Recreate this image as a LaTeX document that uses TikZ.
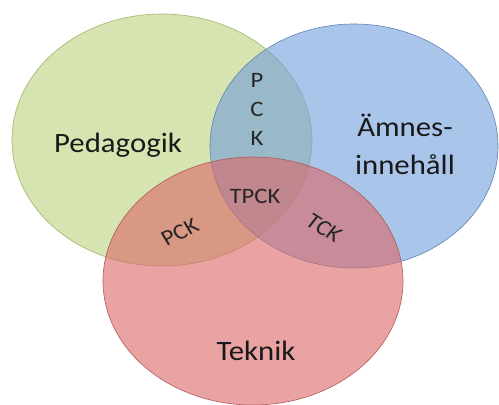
\documentclass[tikz,border=0pt]{standalone}
\usepackage{fontspec}
\setmainfont{Carlito}
\begin{document}
\begin{tikzpicture}[x=1pt,y=-1pt,
  circ/.style={fill opacity=0.6, line width=0.6pt},
  big/.style={font=\fontsize{28}{38}\selectfont, text=black!90, xscale=1.1},
  small/.style={font=\fontsize{22}{29}\selectfont, text=black!85, xscale=1.12, inner sep=0pt}]
\useasboundingbox (0,0) rectangle (499,405);
\definecolor{gfill}{RGB}{185,210,123}
\definecolor{gline}{RGB}{160,180,110}
\definecolor{bfill}{RGB}{113,158,220}
\definecolor{bline}{RGB}{95,130,180}
\definecolor{rfill}{RGB}{220,102,102}
\definecolor{rline}{RGB}{175,90,90}
% the three overlapping sets
\filldraw[circ, fill=gfill, draw=gline] (162,140) ellipse [x radius=150, y radius=126];
\filldraw[circ, fill=bfill, draw=bline] (354,146) ellipse [x radius=144, y radius=122];
\filldraw[circ, fill=rfill, draw=rline] (253,281) ellipse [x radius=150, y radius=124];
% set labels
\node[big] (ped) at (118,145) {Pedagogik};
\node[big, align=center] (amn) at (405,144) {Ämnes-\\innehåll};
\node[big] (tek) at (256,351) {Teknik};
% intersection labels
\node[small, align=center] (pck1) at (257,109) {P\\C\\K};
\node[small] (tpck) at (255,196) {TPCK};
\node[small, rotate=28] (pck2) at (180,232) {PCK};
\node[small, rotate=-35] (tck) at (324,228) {TCK};
\end{tikzpicture}
\end{document}
